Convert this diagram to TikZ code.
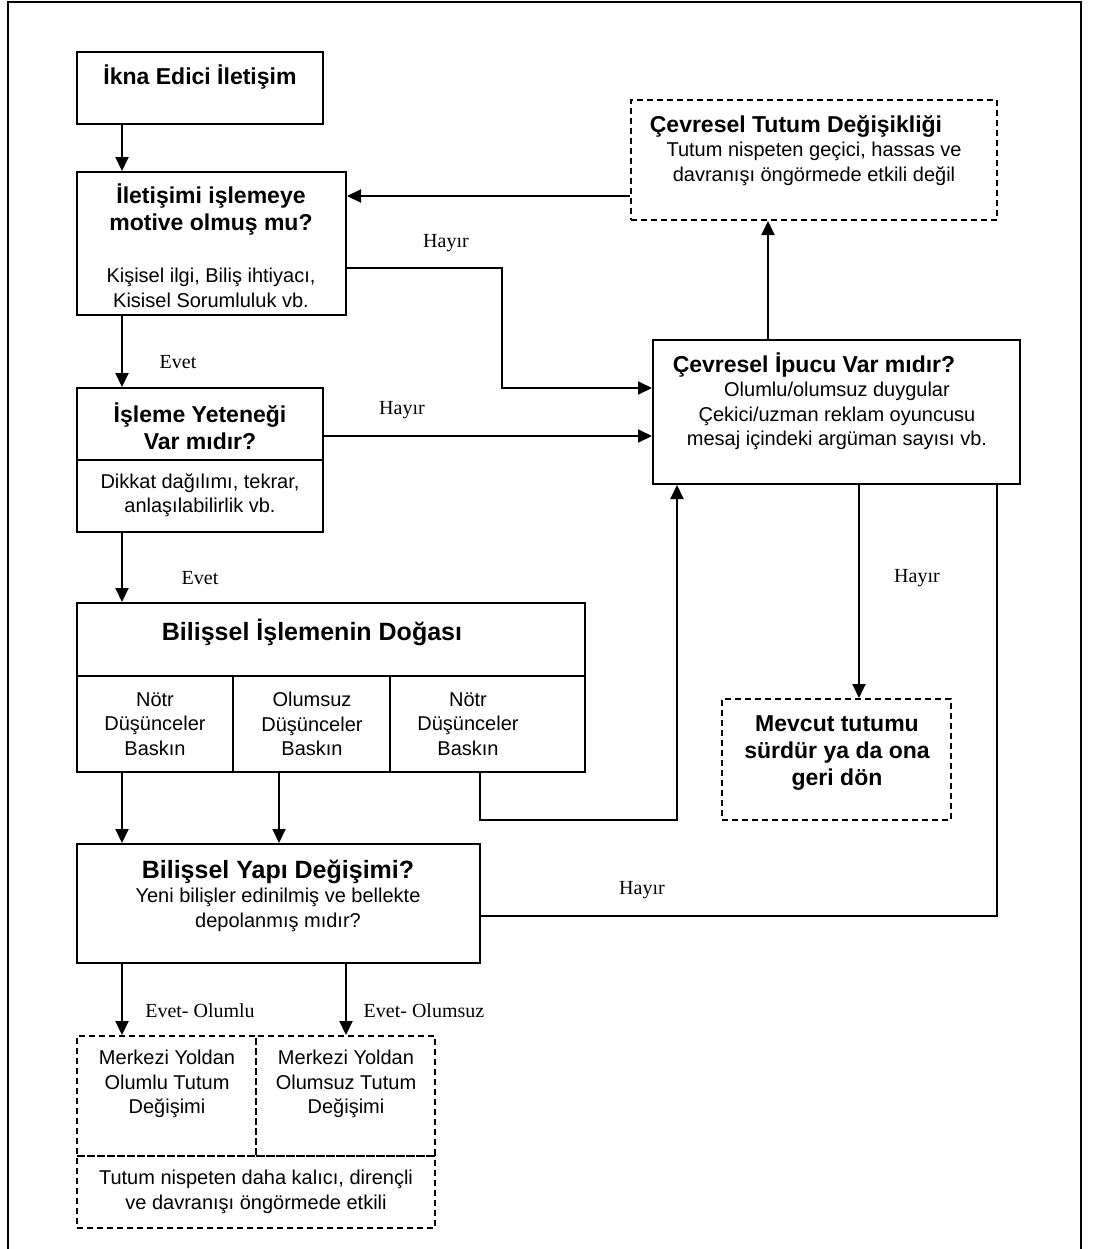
\documentclass[tikz,border=0pt]{standalone}
\usepackage{fontspec}
\setmainfont{Liberation Sans}
\newfontfamily\labelfont{Liberation Serif}
\usetikzlibrary{arrows.meta,fit}

\tikzset{
  box/.style={draw, line width=1pt, inner sep=0pt},
  dbox/.style={box, dash pattern=on 3pt off 2pt},
  ttl/.style={font=\fontsize{11.5}{13.5}\selectfont\bfseries, align=center},
  big/.style={font=\fontsize{12.5}{15}\selectfont\bfseries, align=center},
  txt/.style={font=\fontsize{10}{12.2}\selectfont, align=center},
  lbl/.style={font=\labelfont\fontsize{10}{12}\selectfont},
  arr/.style={-{Triangle[length=7pt,width=6.5pt]}, line width=1pt},
  ln/.style={line width=1pt}
}

\begin{document}
\begin{tikzpicture}[x=0.5pt,y=-0.5pt]
\useasboundingbox (0,0) rectangle (1109,1249);
% outer frame
\draw[line width=1pt] (8,1249) -- (8,2) -- (1081,2) -- (1081,1249);

% boxes
\node[box, fit={(77,52) (323,124)}] (ikna) {};
\node[box, fit={(77,172) (346,315)}] (motive) {};
\node[box, fit={(77,388) (323,460)}] (islemeT) {};
\node[box, fit={(77,460) (323,532)}] (islemeB) {};
\node[box, fit={(77,603) (585,676)}] (doga) {};
\node[box, fit={(77,676) (233,772)}] (cell1) {};
\node[box, fit={(233,676) (390,772)}] (cell2) {};
\node[box, fit={(390,676) (585,772)}] (cell3) {};
\node[box, fit={(77,844) (480,963)}] (yapi) {};
\node[box, fit={(653,340) (1020,484)}] (cue) {};
\node[dbox, fit={(631,100) (997,220)}] (tutum) {};
\node[dbox, fit={(722,699) (951,820)}] (mevcut) {};
\node[dbox, fit={(77,1036) (256,1156)}] (merkA) {};
\node[dbox, fit={(256,1036) (435,1156)}] (merkB) {};
\node[dbox, fit={(77,1156) (435,1228)}] (kalici) {};

% texts
\node[ttl] (ikna-t) at (200,77) {İkna Edici İletişim};
\node[ttl] (motive-t) at (211,210) {İletişimi işlemeye\\motive olmuş mu?};
\node[txt] (motive-s) at (211,288) {Kişisel ilgi, Biliş ihtiyacı,\\Kisisel Sorumluluk vb.};
\node[ttl] (isleme-t) at (200,426) {İşleme Yeteneği\\Var mıdır?};
\node[txt] (isleme-s) at (200,495) {Dikkat dağılımı, tekrar,\\anlaşılabilirlik vb.};
\node[big] (doga-t) at (312,632) {Bilişsel İşlemenin Doğası};
\node[txt] (cell1-t) at (155,724) {Nötr\\Düşünceler\\Baskın};
\node[txt] (cell2-t) at (312,724) {Olumsuz\\Düşünceler\\Baskın};
\node[txt] (cell3-t) at (468,724) {Nötr\\Düşünceler\\Baskın};
\node[big] (yapi-t) at (278,872) {Bilişsel Yapı Değişimi?};
\node[txt] (yapi-s) at (278,910) {Yeni bilişler edinilmiş ve bellekte\\depolanmış mıdır?};
\node[ttl] (tutum-t) at (796,126) {Çevresel Tutum Değişikliği};
\node[txt] (tutum-s) at (814,164) {Tutum nispeten geçici, hassas ve\\davranışı öngörmede etkili değil};
\node[ttl] (cue-t) at (814,365) {Çevresel İpucu Var mıdır?};
\node[txt] (cue-s) at (837,416) {Olumlu/olumsuz duygular\\Çekici/uzman reklam oyuncusu\\mesaj içindeki argüman sayısı vb.};
\node[ttl] (mevcut-t) at (837,753) {Mevcut tutumu\\sürdür ya da ona\\geri dön};
\node[txt] (merkA-t) at (167,1084) {Merkezi Yoldan\\Olumlu Tutum\\Değişimi};
\node[txt] (merkB-t) at (346,1084) {Merkezi Yoldan\\Olumsuz Tutum\\Değişimi};
\node[txt] (kalici-t) at (256,1192) {Tutum nispeten daha kalıcı, dirençli\\ve davranışı öngörmede etkili};

% guide coordinates for the connectors
\coordinate (colA) at (122,0);
\coordinate (colB) at (279,0);
\coordinate (colC) at (346,0);
\coordinate (colD) at (768,0);
\coordinate (colE) at (859,0);
\coordinate (colF) at (677,0);
\coordinate (colG) at (997,0);
\coordinate (colH) at (480,0);
\coordinate (rowA) at (0,196);
\coordinate (bendA) at (502,268);
\coordinate (rowC) at (0,388);
\coordinate (rowD) at (0,436);
\coordinate (rowE) at (0,820);
\coordinate (rowF) at (0,916);

% connectors
\draw[arr] (ikna.south -| colA) -- (motive.north -| colA);
\draw[arr] (tutum.west |- rowA) -- (motive.east |- rowA);
\draw[arr] (motive.east |- bendA) -- (bendA) |- (cue.west |- rowC);
\draw[arr] (motive.south -| colA) -- (islemeT.north -| colA);
\draw[arr] (islemeT.east |- rowD) -- (cue.west |- rowD);
\draw[arr] (islemeB.south -| colA) -- (doga.north -| colA);
\draw[arr] (cue.north -| colD) -- (tutum.south -| colD);
\draw[arr] (cue.south -| colE) -- (mevcut.north -| colE);
\draw[arr] (cell1.south -| colA) -- (yapi.north -| colA);
\draw[arr] (cell2.south -| colB) -- (yapi.north -| colB);
\draw[arr] (cell3.south -| colH) -- (colH |- rowE) -| (cue.south -| colF);
\draw[ln] (yapi.east |- rowF) -| (cue.south -| colG);
\draw[arr] (yapi.south -| colA) -- (merkA.north -| colA);
\draw[arr] (yapi.south -| colC) -- (merkB.north -| colC);

% labels
\node[lbl] (h1) at (446,243) {Hayır};
\node[lbl] (e1) at (178,362) {Evet};
\node[lbl] (h2) at (402,410) {Hayır};
\node[lbl] (e2) at (200,578) {Evet};
\node[lbl] (h3) at (917,578) {Hayır};
\node[lbl] (h4) at (642,890) {Hayır};
\node[lbl] (e3) at (200,1011) {Evet- Olumlu};
\node[lbl] (e4) at (424,1011) {Evet- Olumsuz};
\end{tikzpicture}
\end{document}
